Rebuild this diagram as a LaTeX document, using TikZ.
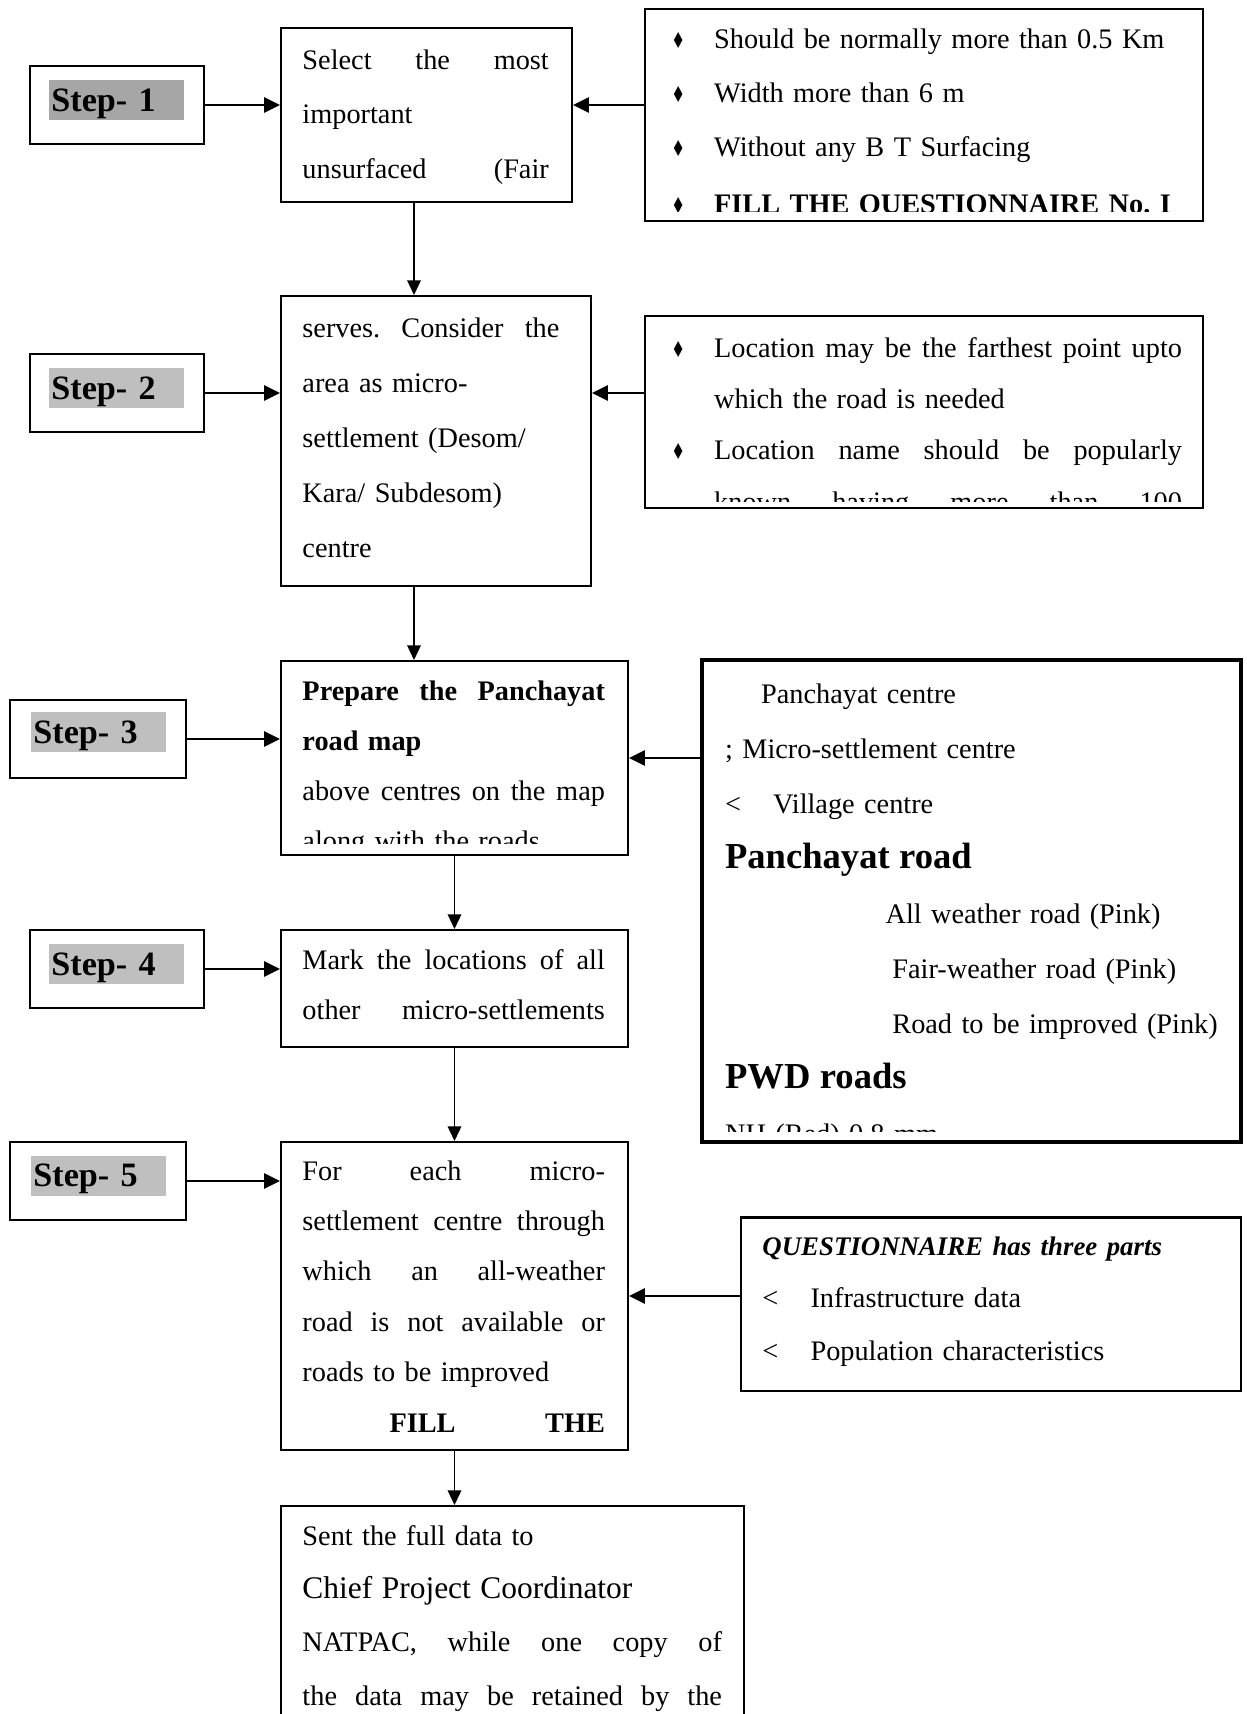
\documentclass[tikz,border=0pt]{standalone}
\usepackage{fontspec}
\setmainfont{Liberation Serif}
\newfontfamily\bulletfont{DejaVu Sans}
\usetikzlibrary{arrows.meta,fit}
\colorlet{hldark}{black!35}
\colorlet{hllight}{black!25}
\def\pu{0.41pt}
\newcommand\lsp[1]{\fontsize{11.6}{#1}\selectfont}
\newcommand\spread[2]{\makebox[#1][s]{\spaceskip=0.25em plus 1fil\relax
  \xspaceskip=0.25em plus 1fil\relax #2}}
\newcommand\jl[1]{\spread{\linewidth}{#1}}
\newcommand\bul{\makebox[17.5pt][l]{\scalebox{0.7}[1]{\bulletfont\small ♦}}}
\newcommand\bj[1]{\bul\spread{191.8pt}{#1}}
\tikzset{
  frame/.style={draw, line width=0.85pt, inner sep=0pt},
  hilite/.style={fill=#1, anchor=north west, inner xsep=0.8pt, inner ysep=0pt,
    text width=53.4pt, text height=12.7pt, text depth=3.7pt,
    font=\fontsize{14}{16}\selectfont\bfseries},
  textin/.style={anchor=base west, inner sep=0pt, align=left, text width=#1},
  harrow/.style={line width=0.85pt, -{Triangle[length=6.5pt,width=6.2pt]}},
  varrow/.style={line width=0.55pt, -{Triangle[length=6pt,width=5.6pt]}}
}

\begin{document}
\frenchspacing
\begin{tikzpicture}[x=\pu, y=-\pu]
            \useasboundingbox (0,0) rectangle (1247,1714);
            \clip (0,0) rectangle (1247,1714);

            \node[frame, fit={(30,66) (204,144)}] (s1) {};
            \node[hilite=hldark] (s1t) at (49,80) {Step- 1};
            \node[frame, fit={(30,354) (204,432)}] (s2) {};
            \node[hilite=hllight] (s2t) at (49,368) {Step- 2};
            \node[frame, fit={(10,700) (186,778)}] (s3) {};
            \node[hilite=hllight] (s3t) at (31,712) {Step- 3};
            \node[frame, fit={(30,930) (204,1008)}] (s4) {};
            \node[hilite=hllight] (s4t) at (49,944) {Step- 4};
            \node[frame, fit={(10,1142) (186,1220)}] (s5) {};
            \node[hilite=hllight] (s5t) at (31,1155) {Step- 5};

            \node[frame, fit={(281,28) (572,202)}] (sel) {};
            \node[textin=101pt, font=\lsp{22.3pt}] (selt) at (302,69.6)
                {\jl{Select the most}\\ important\\ \jl{unsurfaced (Fair}};

            \node[frame, fit={(281,296) (591,586)}] (serv) {};
            \node[textin=110pt, font=\lsp{22.6pt}] (servt) at (302,337.5)
                {\spread{105.3pt}{serves. Consider the}\\ area as micro-\\ settlement (Desom/\\ Kara/ Subdesom)\\ centre};

            \node[frame, fit={(281,661) (628,855)}] (pmap) {};
            \begin{scope}
                \clip (pmap.north west) rectangle ([yshift=12.5*\pu]pmap.south east);
                \node[textin=124pt, font=\lsp{20.6pt}] (pmapt) at (302,700)
                    {\jl{\bfseries Prepare the Panchayat}\\ \textbf{road map}\\
                     \jl{above centres on the map}\\ along with the roads};
            \end{scope}

            \node[frame, fit={(281,930) (628,1047)}] (mark) {};
            \node[textin=124pt, font=\lsp{20.6pt}] (markt) at (302,969)
                {\jl{Mark the locations of all}\\ \jl{other micro-settlements}};

            \node[frame, fit={(281,1142) (628,1450)}] (each) {};
            \node[textin=124pt, font=\lsp{20.7pt}] (eacht) at (302,1180)
                {\jl{For each micro-}\\ \jl{settlement centre through}\\ \jl{which an all-weather}\\
                 \jl{road is not available or}\\ roads to be improved\\
                 \hspace*{35.7pt}\spread{88.3pt}{\bfseries FILL THE}};

            \node[frame, fit={(281,1506) (744,1760)}] (sent) {};
            \node[textin=172pt, font=\lsp{21.9pt}] (sentt) at (302,1545)
                {Sent the full data to\\ {\fontsize{12.9}{21.9pt}\selectfont Chief Project Coordinator}\\
                 \jl{NATPAC, while one copy of}\\ \jl{the data may be retained by the}};

            \node[frame, fit={(645,9) (1203,221)}] (r1) {};
            \begin{scope}
                \clip (r1.north west) rectangle ([yshift=11*\pu]r1.south east);
                \node[textin=225pt, font=\lsp{22pt}] (r1t) at (671,49)
                    {\bul Should be normally more than 0.5 Km\\ \bul Width more than 6 m\\
                     \bul Without any B T Surfacing\\[1.5pt] \bul\textbf{FILL THE QUESTIONNAIRE No. I}};
            \end{scope}

            \node[frame, fit={(645,316) (1203,508)}] (r2) {};
            \begin{scope}
                \clip (r2.north west) rectangle ([yshift=7.5*\pu]r2.south east);
                \node[textin=209.3pt, font=\lsp{21.1pt}] (r2t) at (671,357)
                    {\bj{Location may be the farthest point upto}\\ \hspace*{17.5pt}which the road is needed\\
                     \bj{Location name should be popularly}\\
                     \hspace*{17.5pt}\spread{191.8pt}{known having more than 100}};
            \end{scope}

            \node[frame, line width=1.4pt, fit={(702,660) (1241,1142)}] (r3) {};
            \begin{scope}
                \clip (r3.north west) rectangle ([yshift=12*\pu]r3.south east);
                \node[textin=207pt, font=\lsp{22.55pt}] (r3t) at (724.6,703.5)
                    {\hspace*{14.8pt}Panchayat centre\\ ; Micro-settlement centre\\
                     \makebox[19.7pt][l]{<}Village centre\\
                     {\fontsize{15}{22.55pt}\selectfont\bfseries Panchayat road}\\
                     \hspace*{65.8pt}All weather road (Pink)\\
                     \hspace*{68.6pt}Fair-weather road (Pink)\\
                     \hspace*{68.6pt}Road to be improved (Pink)\\
                     {\fontsize{15}{22.55pt}\selectfont\bfseries PWD roads}\\
                     NH (Red) 0.8 mm};
            \end{scope}

            \node[frame, fit={(741,1217.5) (1241,1391)}] (r5) {};
            \node[textin=190pt, font=\lsp{21.5pt}] (r5t) at (762,1255.5)
                {{\fontsize{11}{21.5pt}\selectfont\bfseries\itshape QUESTIONNAIRE has three parts}\\
                 \makebox[19.7pt][l]{<}Infrastructure data\\
                 \makebox[19.7pt][l]{<}Population characteristics};

            \draw[harrow] (s1.east) -- (s1.east -| sel.west);
            \draw[harrow] (s2.east) -- (s2.east -| serv.west);
            \draw[harrow] (s3.east) -- (s3.east -| pmap.west);
            \draw[harrow] (s4.east) -- (s4.east -| mark.west);
            \draw[harrow] (s5.east) -- (s5.east -| each.west);

            \draw[harrow] (r1.west |- s1.east) -- (sel.east |- s1.east);
            \draw[harrow] (r2.west |- s2.east) -- (serv.east |- s2.east);
            \draw[harrow] (r3.west |- pmap.east) -- (pmap.east);
            \draw[harrow] (r5.west |- each.east) -- (each.east);

            \coordinate (v1) at ([xshift=-12.5*\pu]sel.south);
            \draw[varrow] (v1) -- (v1 |- serv.north);
            \coordinate (v2) at ([xshift=-22*\pu]serv.south);
            \draw[varrow] (v2) -- (v2 |- pmap.north);
            \draw[varrow] (pmap.south) -- (mark.north);
            \draw[varrow] (mark.south) -- (each.north);
            \draw[varrow] (each.south) -- (each.south |- sent.north);
        \end{tikzpicture}
\end{document}
